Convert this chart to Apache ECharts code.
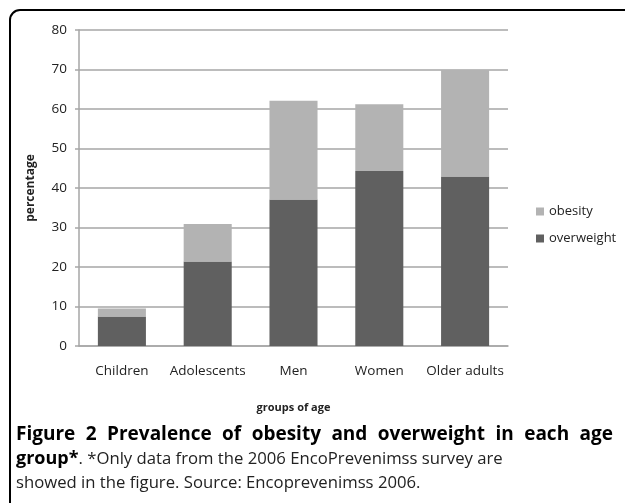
<!DOCTYPE html>
<html>
<head>
<meta charset="utf-8">
<script src="https://cdn.jsdelivr.net/npm/echarts@6/dist/echarts.min.js"></script>
<style>
  html, body { margin: 0; padding: 0; background: #fff; }
  #chart { width: 625px; height: 503px; }
</style>
</head>
<body>
<div id="chart"></div>
<script>
// Age groups and prevalence (%) by group
const categories = ['Children', 'Adolescents', 'Men', 'Women', 'Older adults'];
const overweight = [7.5, 21.4, 37.1, 44.3, 42.9];
const obesity = [2.0, 9.5, 25.0, 16.9, 27.0];
const yTicks = { min: 0, max: 80, interval: 10 };

const captionTitle = 'Figure 2 Prevalence of obesity and overweight in each age';
const captionLead = 'group*';
const captionRest = '. *Only data from the 2006 EncoPrevenimss survey are';
const captionLast = 'showed in the figure. Source: Encoprevenimss 2006.';

const FONT = '"Open Sans", "DejaVu Sans", sans-serif';
const TITLE_CAPTION = 'bold 19px ' + FONT;
const BOLD_CAPTION = 'bold 18px ' + FONT;
const NORMAL_CAPTION = '16.7px ' + FONT;

// Spread the words of a line evenly between x0 and x1 (justified text).
function justifiedLine(text, font, x0, x1, y) {
  const ctx = document.createElement('canvas').getContext('2d');
  ctx.font = font;
  const words = text.split(' ');
  const widths = words.map(w => ctx.measureText(w).width);
  const total = widths.reduce((a, b) => a + b, 0);
  const gap = (x1 - x0 - total) / (words.length - 1);
  let x = x0;
  return words.map((w, i) => {
    const el = {
      type: 'text',
      x: x,
      y: y,
      style: { text: w, font: font, fill: '#000', verticalAlign: 'middle' }
    };
    x += widths[i] + gap;
    return el;
  });
}

const chart = echarts.init(document.getElementById('chart'), null, { renderer: 'canvas' });

chart.setOption({
  backgroundColor: '#ffffff',
  animation: false,
  textStyle: { fontFamily: FONT },
  grid: { left: 79, right: 117, top: 30, bottom: 157, containLabel: false },
  legend: {
    orient: 'vertical',
    left: 531,
    top: 200,
    itemWidth: 8,
    itemHeight: 8,
    itemGap: 14,
    icon: 'rect',
    data: ['obesity', 'overweight'],
    textStyle: { fontFamily: FONT, fontSize: 13, color: '#222' }
  },
  xAxis: {
    type: 'category',
    data: categories,
    name: 'groups of age',
    nameLocation: 'middle',
    nameGap: 56,
    nameTextStyle: { fontFamily: FONT, fontSize: 11, fontWeight: 'bold', color: '#222' },
    axisLine: { lineStyle: { color: '#a6a6a6', width: 1.5 } },
    axisTick: { show: false },
    axisLabel: { interval: 0, fontFamily: FONT, fontSize: 13.5, color: '#222', margin: 18 }
  },
  yAxis: {
    type: 'value',
    min: yTicks.min,
    max: yTicks.max,
    interval: yTicks.interval,
    name: 'percentage',
    nameLocation: 'middle',
    nameGap: 42,
    nameTextStyle: { fontFamily: FONT, fontSize: 12, fontWeight: 'bold', color: '#222' },
    axisLine: { show: true, lineStyle: { color: '#a6a6a6', width: 1.5 } },
    axisTick: { show: true, length: 4, lineStyle: { color: '#a6a6a6', width: 1.5 } },
    axisLabel: { fontFamily: FONT, fontSize: 13.5, color: '#222', margin: 12 },
    splitLine: { lineStyle: { color: '#a6a6a6', width: 1.5 } }
  },
  series: [
    {
      name: 'overweight',
      type: 'bar',
      stack: 'total',
      barWidth: '56%',
      data: overweight,
      itemStyle: { color: '#606060' }
    },
    {
      name: 'obesity',
      type: 'bar',
      stack: 'total',
      barWidth: '56%',
      data: obesity,
      itemStyle: { color: '#b3b3b3' }
    }
  ],
  graphic: [
    {
      type: 'rect',
      z: -10,
      silent: true,
      shape: { x: 10, y: 10, width: 700, height: 600, r: 10 },
      style: { fill: 'none', stroke: '#000', lineWidth: 2 }
    },
    ...justifiedLine(captionTitle, TITLE_CAPTION, 16, 613, 435),
    {
      type: 'text',
      x: 16,
      y: 459,
      style: {
        text: '{b|' + captionLead + '}{n|' + captionRest + '}',
        verticalAlign: 'middle',
        rich: {
          b: { font: BOLD_CAPTION, fill: '#000' },
          n: { font: NORMAL_CAPTION, fill: '#222' }
        }
      }
    },
    {
      type: 'text',
      x: 16,
      y: 483,
      style: {
        text: captionLast,
        font: NORMAL_CAPTION,
        fill: '#222',
        verticalAlign: 'middle'
      }
    }
  ]
});
</script>
</body>
</html>
